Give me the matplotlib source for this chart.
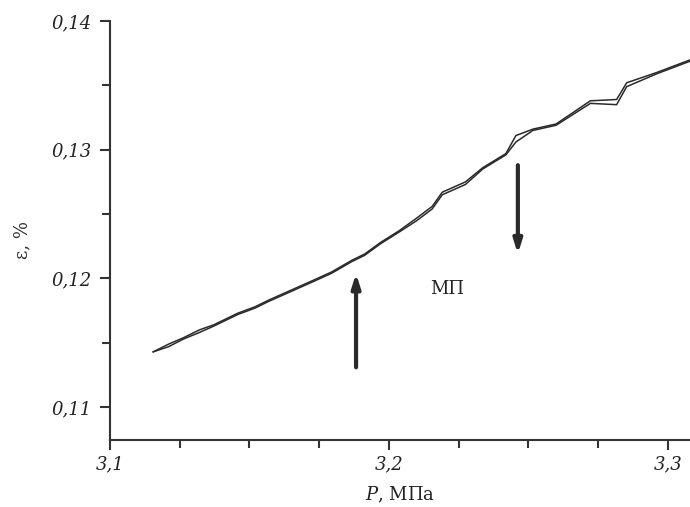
import matplotlib
matplotlib.use('Agg')
from matplotlib import pyplot as plt
from matplotlib.ticker import MultipleLocator, FuncFormatter

# strain vs pressure (two close branches)
P = [3.1155, 3.1210, 3.1264, 3.1320, 3.1372, 3.1458, 3.1520, 3.1567,
     3.1650, 3.1733, 3.1794, 3.1866, 3.1913, 3.1970, 3.2036, 3.2100,
     3.2155, 3.2191, 3.2274, 3.2336, 3.2419, 3.2455, 3.2516, 3.2599,
     3.2722, 3.2816, 3.2852, 3.2960, 3.3094]
eps_up = [0.1143, 0.1149, 0.1154, 0.1160, 0.1164, 0.1173, 0.1178, 0.1183,
          0.1191, 0.1199, 0.1205, 0.1214, 0.1219, 0.1228, 0.1237, 0.1247,
          0.1256, 0.1267, 0.1275, 0.1286, 0.1297, 0.1311, 0.1316, 0.1320,
          0.1338, 0.1339, 0.1352, 0.1360, 0.1371]
eps_down = [0.1143, 0.1147, 0.1153, 0.1158, 0.1163, 0.1172, 0.1177, 0.1182,
            0.1190, 0.1198, 0.1204, 0.1213, 0.1218, 0.1227, 0.1236, 0.1245,
            0.1254, 0.1265, 0.1273, 0.1285, 0.1296, 0.1306, 0.1315, 0.1319,
            0.1336, 0.1335, 0.1349, 0.1359, 0.1370]

# arrows marking the phase transition range
arrow_up = (3.1882, 0.1131, 0.1204)
arrow_down = (3.2462, 0.1288, 0.1219)
label_pos = (3.2208, 0.1192)

plt.rcParams['font.family'] = 'DejaVu Serif'
plt.rcParams['mathtext.fontset'] = 'dejavuserif'

fig = plt.figure(figsize=(6.9, 5.07), dpi=100)
ax = fig.add_axes([0.1594, 0.1321, 0.8406, 0.8265])

ax.plot(P, eps_up, color='#2a2a2a', lw=1.1)
ax.plot(P, eps_down, color='#2a2a2a', lw=1.1)

for x, y0, y1 in (arrow_up, arrow_down):
    ax.annotate('', xy=(x, y1), xytext=(x, y0),
                arrowprops=dict(arrowstyle='-|>,head_length=0.8,head_width=0.25',
                                color='#2a2a2a', lw=3, shrinkA=0, shrinkB=0))

ax.text(label_pos[0], label_pos[1], 'МП', fontsize=13, ha='center',
        va='center', color='#222222')

ax.set_xlim(3.1, 3.3079)
ax.set_ylim(0.10745, 0.14)
ax.xaxis.set_major_locator(MultipleLocator(0.1))
ax.xaxis.set_minor_locator(MultipleLocator(0.025))
ax.yaxis.set_major_locator(MultipleLocator(0.01))
ax.yaxis.set_minor_locator(MultipleLocator(0.005))
ax.xaxis.set_major_formatter(FuncFormatter(lambda v, p: f'{v:.1f}'.replace('.', ',')))
ax.yaxis.set_major_formatter(FuncFormatter(lambda v, p: f'{v:.2f}'.replace('.', ',')))

ax.tick_params(which='both', direction='out', width=1.5, color='#333333',
               labelsize=13)
ax.tick_params(which='major', length=7)
ax.tick_params(which='minor', length=6)
ax.tick_params(axis='x', pad=4)
ax.tick_params(axis='y', pad=6)
for lab in ax.get_xticklabels() + ax.get_yticklabels():
    lab.set_fontstyle('italic')
    lab.set_color('#222222')

for side in ('top', 'right'):
    ax.spines[side].set_visible(False)
for side in ('left', 'bottom'):
    ax.spines[side].set_linewidth(1.5)
    ax.spines[side].set_color('#333333')

ax.set_xlabel('$P$, МПа', fontsize=13, color='#222222', labelpad=8)
ax.set_ylabel('ε, %', fontsize=13, color='#333333')
ax.yaxis.set_label_coords(-0.136, 0.477)

fig.savefig('out.png', dpi=100)
